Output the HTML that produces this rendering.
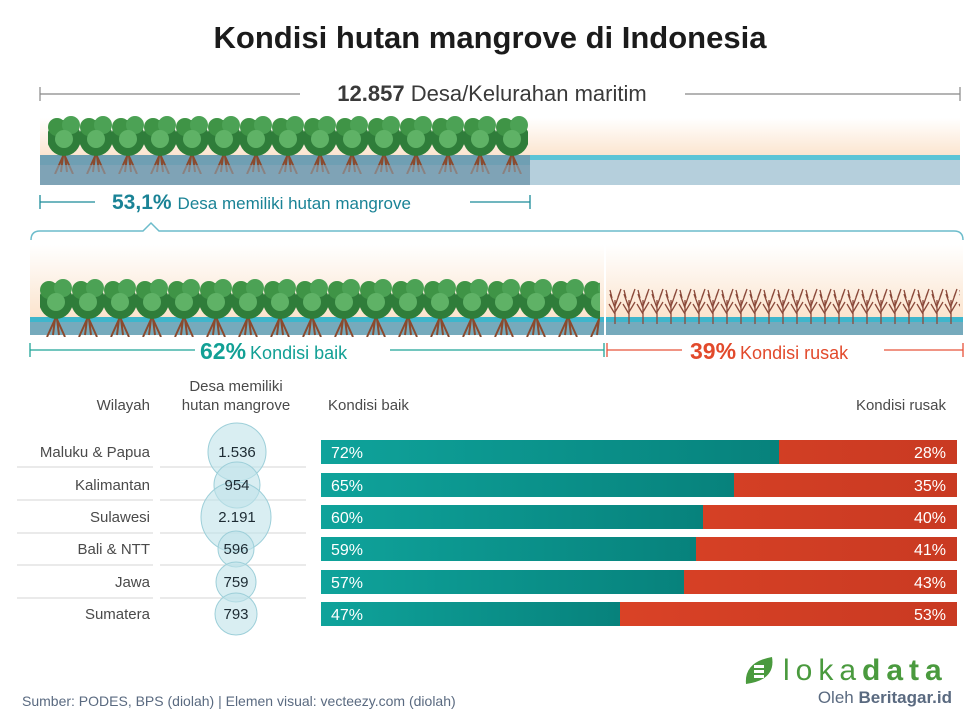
<!DOCTYPE html>
<html><head><meta charset="utf-8"><style>
body{margin:0;background:#fff;width:980px;height:726px;overflow:hidden;font-family:"Liberation Sans",sans-serif}
</style></head><body>
<svg width="980" height="726" xmlns="http://www.w3.org/2000/svg" style="position:absolute;left:0;top:0">
<defs>
<linearGradient id="sky" x1="0" y1="0" x2="0" y2="1"><stop offset="0" stop-color="#fff"/><stop offset="1" stop-color="#fbe3cc"/></linearGradient>
<linearGradient id="tl" x1="0" y1="0" x2="1" y2="0"><stop offset="0" stop-color="#0fa39b"/><stop offset="1" stop-color="#07827c"/></linearGradient>
<linearGradient id="rd" x1="0" y1="0" x2="1" y2="0"><stop offset="0" stop-color="#e8492a"/><stop offset="1" stop-color="#c93a22"/></linearGradient>
<pattern id="tree1" x="48" y="112" width="32" height="300" patternUnits="userSpaceOnUse">
<path d="M16 36 L13 60 M16 36 L19 60 M16 42 L7 62 M16 42 L25 62" stroke="#8a4a2e" stroke-width="2" fill="none"/>
<ellipse cx="16" cy="26" rx="17" ry="18" fill="#2f7d3a"/>
<circle cx="9" cy="15" r="9" fill="#3f9446"/>
<circle cx="23" cy="13" r="9" fill="#4ca255"/>
<circle cx="16" cy="27" r="9" fill="#5fb266"/>
</pattern>
<pattern id="tree2" x="40" y="275" width="32" height="300" patternUnits="userSpaceOnUse">
<path d="M16 36 L13 60 M16 36 L19 60 M16 42 L7 62 M16 42 L25 62" stroke="#8a4a2e" stroke-width="2" fill="none"/>
<ellipse cx="16" cy="26" rx="17" ry="18" fill="#2f7d3a"/>
<circle cx="9" cy="15" r="9" fill="#3f9446"/>
<circle cx="23" cy="13" r="9" fill="#4ca255"/>
<circle cx="16" cy="27" r="9" fill="#5fb266"/>
</pattern>
<pattern id="dead" x="608" y="288" width="14" height="300" patternUnits="userSpaceOnUse">
<path d="M7 40 L7 12 M7 20 L2 6 M7 18 L12 4 M7 26 L1 16 M7 24 L13 14 M4 10 L2 2 M10 9 L13 1" stroke="#8b4a3a" stroke-width="1.3" fill="none"/>
</pattern>
</defs>
<text x="490" y="48" text-anchor="middle" font-size="31" font-weight="bold" fill="#1b1b1b">Kondisi hutan mangrove di Indonesia</text>
<g stroke="#888" stroke-width="1.2"><line x1="40" y1="94" x2="300" y2="94"/><line x1="685" y1="94" x2="960" y2="94"/><line x1="40" y1="87" x2="40" y2="101"/><line x1="960" y1="87" x2="960" y2="101"/></g>
<text x="492" y="101" text-anchor="middle" font-size="22" fill="#3a3a3a"><tspan font-weight="bold">12.857</tspan> Desa/Kelurahan maritim</text>
<rect x="40" y="118" width="920" height="40" fill="url(#sky)"/>
<rect x="40" y="155" width="920" height="30" fill="#b5cfdc"/>
<rect x="40" y="155" width="920" height="5" fill="#5cc4d6"/>
<rect x="40" y="155" width="490" height="30" fill="#6f9fb3"/>
<rect x="48" y="112" width="480" height="62" fill="url(#tree1)"/>
<rect x="40" y="165" width="490" height="20" fill="#8aa6b8" opacity=".6"/>
<g stroke="#1b8b99" stroke-width="1.3"><line x1="40" y1="202" x2="95" y2="202"/><line x1="470" y1="202" x2="530" y2="202"/><line x1="40" y1="195" x2="40" y2="209"/><line x1="530" y1="195" x2="530" y2="209"/></g>
<text x="112" y="209" font-size="21" fill="#1a8396"><tspan font-weight="bold">53,1%</tspan><tspan font-size="17" dx="6">Desa memiliki hutan mangrove</tspan></text>
<path d="M31 240 Q31 231 40 231 L143 231 L151 223 L159 231 L954 231 Q963 231 963 240" stroke="#6cbccb" stroke-width="1.5" fill="none"/>
<rect x="30" y="245" width="933" height="75" fill="url(#sky)"/>
<rect x="30" y="317" width="933" height="18" fill="#3fb6cc"/>
<rect x="30" y="322" width="933" height="13" fill="#8fa5b5" opacity=".7"/>
<rect x="40" y="275" width="560" height="62" fill="url(#tree2)"/>
<rect x="608" y="288" width="352" height="36" fill="url(#dead)"/>
<line x1="605" y1="245" x2="605" y2="335" stroke="#fff" stroke-width="2"/>
<g stroke="#1fa597" stroke-width="1.3"><line x1="30" y1="350" x2="195" y2="350"/><line x1="390" y1="350" x2="604" y2="350"/><line x1="30" y1="343" x2="30" y2="357"/><line x1="604" y1="343" x2="604" y2="357"/></g>
<text x="200" y="359" font-size="23" fill="#12a095"><tspan font-weight="bold">62%</tspan><tspan font-size="18" dx="4">Kondisi baik</tspan></text>
<g stroke="#e8533a" stroke-width="1.3"><line x1="607" y1="350" x2="682" y2="350"/><line x1="884" y1="350" x2="963" y2="350"/><line x1="607" y1="343" x2="607" y2="357"/><line x1="963" y1="343" x2="963" y2="357"/></g>
<text x="690" y="359" font-size="23" fill="#e24a2c"><tspan font-weight="bold">39%</tspan><tspan font-size="18" dx="4">Kondisi rusak</tspan></text>
<g font-size="15" fill="#4a4a4a">
<text x="150" y="410" text-anchor="end">Wilayah</text>
<text x="236" y="391" text-anchor="middle">Desa memiliki</text>
<text x="236" y="410" text-anchor="middle">hutan mangrove</text>
<text x="328" y="410">Kondisi baik</text>
<text x="946" y="410" text-anchor="end">Kondisi rusak</text>
</g>
<g stroke="#ddd" stroke-width="1.2">
<line x1="17" y1="467" x2="153" y2="467"/><line x1="160" y1="467" x2="306" y2="467"/>
<line x1="17" y1="500" x2="153" y2="500"/><line x1="160" y1="500" x2="306" y2="500"/>
<line x1="17" y1="533" x2="153" y2="533"/><line x1="160" y1="533" x2="306" y2="533"/>
<line x1="17" y1="565" x2="153" y2="565"/><line x1="160" y1="565" x2="306" y2="565"/>
<line x1="17" y1="598" x2="153" y2="598"/><line x1="160" y1="598" x2="306" y2="598"/>
</g>
<g fill="#bfe3ea" fill-opacity=".6" stroke="#9dcfd9" stroke-width="1">
<circle cx="237" cy="452" r="29"/><circle cx="237" cy="485" r="23"/><circle cx="236" cy="517" r="35"/>
<circle cx="236" cy="549" r="18"/><circle cx="236" cy="582" r="20"/><circle cx="236" cy="614" r="21"/>
</g>
<g font-size="15" fill="#4a4a4a" text-anchor="end">
<text x="150" y="457">Maluku &amp; Papua</text><text x="150" y="490">Kalimantan</text><text x="150" y="522">Sulawesi</text>
<text x="150" y="554">Bali &amp; NTT</text><text x="150" y="587">Jawa</text><text x="150" y="619">Sumatera</text>
</g>
<g font-size="15" fill="#1d2b33" text-anchor="middle">
<text x="237" y="457">1.536</text><text x="237" y="490">954</text><text x="237" y="522">2.191</text>
<text x="236" y="554">596</text><text x="236" y="587">759</text><text x="236" y="619">793</text>
</g>
<g>
<rect x="321" y="440" width="636" height="24" fill="url(#rd)"/><rect x="321" y="440" width="458" height="24" fill="url(#tl)"/>
<rect x="321" y="473" width="636" height="24" fill="url(#rd)"/><rect x="321" y="473" width="413" height="24" fill="url(#tl)"/>
<rect x="321" y="505" width="636" height="24" fill="url(#rd)"/><rect x="321" y="505" width="382" height="24" fill="url(#tl)"/>
<rect x="321" y="537" width="636" height="24" fill="url(#rd)"/><rect x="321" y="537" width="375" height="24" fill="url(#tl)"/>
<rect x="321" y="570" width="636" height="24" fill="url(#rd)"/><rect x="321" y="570" width="363" height="24" fill="url(#tl)"/>
<rect x="321" y="602" width="636" height="24" fill="url(#rd)"/><rect x="321" y="602" width="299" height="24" fill="url(#tl)"/>
</g>
<g font-size="16" fill="#fff">
<text x="331" y="458">72%</text><text x="331" y="491">65%</text><text x="331" y="523">60%</text>
<text x="331" y="555">59%</text><text x="331" y="588">57%</text><text x="331" y="620">47%</text>
<g text-anchor="end"><text x="946" y="458">28%</text><text x="946" y="491">35%</text><text x="946" y="523">40%</text>
<text x="946" y="555">41%</text><text x="946" y="588">43%</text><text x="946" y="620">53%</text></g>
</g>
<path d="M746 684 Q744 662 772 657 Q776 680 746 684 Z" fill="#4a9a3e"/>
<g fill="#fff"><rect x="754" y="665" width="10" height="3"/><rect x="754" y="670" width="10" height="3"/><rect x="754" y="675" width="10" height="3"/></g>
<text x="783" y="680" font-size="30" fill="#4a9a3e" letter-spacing="6">loka<tspan font-weight="bold">data</tspan></text>
<text x="952" y="703" text-anchor="end" font-size="17" fill="#5a6a80">Oleh <tspan font-weight="bold">Beritagar.id</tspan></text>
<text x="22" y="706" font-size="14" fill="#5a6a80">Sumber: PODES, BPS (diolah) | Elemen visual: vecteezy.com (diolah)</text>
</svg>
</body></html>
